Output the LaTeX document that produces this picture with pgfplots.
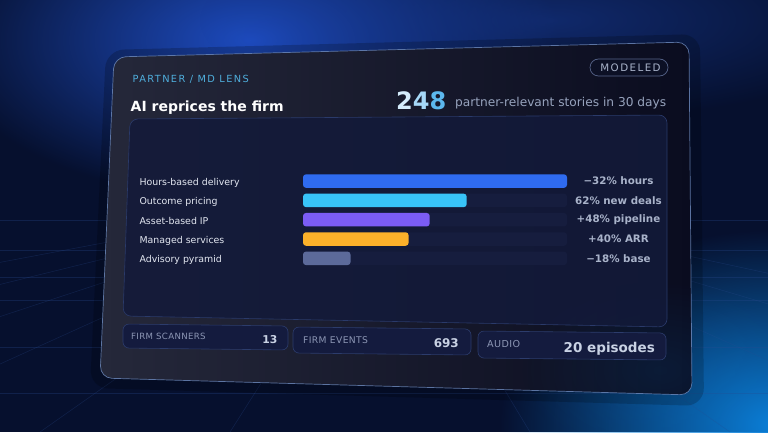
\documentclass[border=0pt]{standalone}
\usepackage{pgfplots}
\pgfplotsset{compat=1.18}
\usepackage{fontspec}
\setmainfont{DejaVu Sans}
\newfontfamily\spaced[LetterSpace=14]{DejaVu Sans}
\newfontfamily\spacedsm[LetterSpace=4]{DejaVu Sans}
\usetikzlibrary{fadings}
\tikzfading[name=glowfade, inner color=transparent!0, outer color=transparent!100]
\definecolor{bgbase}{HTML}{06102E}
\definecolor{glowA}{HTML}{1E4CC0}
\definecolor{glowB}{HTML}{0B7FD8}
\definecolor{gridc}{HTML}{2A4A8F}
\definecolor{cardL}{HTML}{25283A}
\definecolor{cardR}{HTML}{0A0C1F}
\definecolor{cardedge}{HTML}{6F8CC0}
\definecolor{panelfill}{HTML}{131A3A}
\definecolor{paneledge}{HTML}{2A3A6A}
\definecolor{boxfill}{HTML}{141B3E}
\definecolor{boxedge}{HTML}{2C3C6C}
\definecolor{kicker}{HTML}{4FAEDC}
\definecolor{subt}{HTML}{97A3BD}
\definecolor{catc}{HTML}{E3E7F1}
\definecolor{valc}{HTML}{A9B3CA}
\definecolor{small}{HTML}{8C96B4}
\definecolor{bignum}{HTML}{C9D2E4}
\definecolor{track}{HTML}{161D3E}
\definecolor{cA}{HTML}{2F6BF0}
\definecolor{cB}{HTML}{38C3F8}
\definecolor{cC}{HTML}{7B5CF5}
\definecolor{cD}{HTML}{FBB02A}
\definecolor{cE}{HTML}{5C6A9A}
\definecolor{dA}{HTML}{D4ECFC}
\definecolor{dB}{HTML}{A6D8F8}
\definecolor{dC}{HTML}{5CB8EE}
\begin{document}
\begin{tikzpicture}
\useasboundingbox (0pt,0pt) rectangle (768pt,432pt);
\clip (0pt,0pt) rectangle (768pt,432pt);
\fill[bgbase] (0pt,0pt) rectangle (768pt,432pt);
\begin{scope}[x=1pt,y=-1pt,shift={(0pt,432pt)}]
  % glows
  \fill[glowA, path fading=glowfade] (-60,-120) rectangle (560,200);
  \fill[glowA!70!bgbase, path fading=glowfade, opacity=0.6] (200,-80) rectangle (900,120);
  \fill[glowB, path fading=glowfade] (500,230) rectangle (1050,620);
  % grid floor
  \begin{scope}[draw=gridc, line width=0.5pt, opacity=0.3]
    \foreach \yy in {220,250,277,300,347,393} {\draw (0,\yy) -- (768,\yy);}
    \foreach \xx in {-900,-600,-350,-150,40,230,530,730,930,1200,1500} {\draw (384,190) -- (\xx,432);}
  \end{scope}
  % card shadow
  \fill[black, opacity=0.2, rounded corners=18pt] (106,50) -- (700,34) -- (704,406) -- (90,388) -- cycle;
  % card
  \shade[left color=cardL, right color=cardR, rounded corners=12pt] (114,57) -- (689,42) -- (692,395) -- (100,378) -- cycle;
  \fill[glowB, opacity=0.12, path fading=glowfade] (520,280) rectangle (800,460);
  \draw[cardedge, line width=0.7pt, opacity=0.8, rounded corners=12pt] (114,57) -- (689,42) -- (692,395) -- (100,378) -- cycle;
  % inner panel
  \fill[panelfill, opacity=0.85, rounded corners=8pt] (130,119) -- (667,115) -- (667,327) -- (123,316) -- cycle;
  \draw[paneledge, line width=0.6pt, rounded corners=8pt] (130,119) -- (667,115) -- (667,327) -- (123,316) -- cycle;
  % bottom boxes
  \foreach \a/\b/\c/\d in {123/324/288/350, 293/327/471/355, 478/331/666/360} {
    \fill[boxfill, rounded corners=6pt] (\a,\b) -- (\c,\b+2) -- (\c,\d) -- (\a,\d-2) -- cycle;
    \draw[boxedge, line width=0.6pt, rounded corners=6pt] (\a,\b) -- (\c,\b+2) -- (\c,\d) -- (\a,\d-2) -- cycle;
  }
  \node[anchor=base west, inner sep=0pt, text=small, font=\spacedsm\fontsize{8.6}{10}\selectfont] at (131,339.5) {FIRM SCANNERS};
  \node[anchor=base east, inner sep=0pt, text=bignum, font=\bfseries\fontsize{10.8}{13}\selectfont] at (277.5,343) {13};
  \node[anchor=base west, inner sep=0pt, text=small, font=\spacedsm\fontsize{9.2}{10}\selectfont] at (303,343) {FIRM EVENTS};
  \node[anchor=base east, inner sep=0pt, text=bignum, font=\bfseries\fontsize{12}{14}\selectfont] at (459,347.5) {693};
  \node[anchor=base west, inner sep=0pt, text=small, font=\spacedsm\fontsize{9.6}{10}\selectfont] at (487,347) {AUDIO};
  \node[anchor=base east, inner sep=0pt, text=bignum, font=\bfseries\fontsize{13.5}{15}\selectfont] at (655,352.5) {20 episodes};
  % header
  \node[anchor=base west, inner sep=0pt, text=kicker, font=\spaced\fontsize{9.8}{11}\selectfont] at (132.5,82.3) {PARTNER / MD LENS};
  \node[anchor=base west, inner sep=0pt, text=white, font=\bfseries\fontsize{14}{16}\selectfont] at (130.5,112) {AI reprices the firm};
  \node[anchor=base west, inner sep=0pt, font=\bfseries\fontsize{24}{26}\selectfont] at (396,109.5) {\textcolor{dA}{2}\textcolor{dB}{4}\textcolor{dC}{8}};
  \node[anchor=base west, inner sep=0pt, text=subt, font=\fontsize{12.2}{14}\selectfont] at (455,106) {partner-relevant stories in 30 days};
  \draw[boxedge!80!white, line width=0.7pt, rounded corners=8.5pt, fill=boxfill!60!black] (590,59) rectangle (668,76);
  \node[inner sep=0pt, text=valc, font=\spaced\fontsize{10.3}{11}\selectfont] at (630.5,67.5) {MODELED};
\end{scope}
\begin{axis}[
  at={(303pt,164pt)}, anchor=south west,
  scale only axis, width=264pt, height=96.6pt,
  xbar, bar width=13.5pt,
  xmin=0, xmax=100, ymin=-0.5, ymax=4.5, y dir=reverse,
  axis line style={draw=none},
  xtick=\empty, ytick={0,1,2,3,4},
  yticklabels={Hours-based delivery,Outcome pricing,Asset-based IP,Managed services,Advisory pyramid},
  major tick length=0pt,
  yticklabel style={anchor=west, xshift=-167pt, yshift=-1.5pt, text=catc, font=\fontsize{9.4}{11}\selectfont},
  clip=false,
  every axis plot/.append style={draw=none, bar shift=0pt, rounded corners=3pt},
]
\addplot[fill=track] coordinates {(100,0) (100,1) (100,2) (100,3) (100,4)};
\addplot[fill=cA] coordinates {(100,0)};
\addplot[fill=cB] coordinates {(62,1)};
\addplot[fill=cC] coordinates {(48,2)};
\addplot[fill=cD] coordinates {(40,3)};
\addplot[fill=cE] coordinates {(18,4)};
\begin{scope}[every node/.style={text=valc, font=\bfseries\fontsize{10.3}{12}\selectfont}]
\node at (axis cs:119.5,0) {−32\% hours};
\node at (axis cs:119.5,1) {62\% new deals};
\node at (axis cs:119.5,2) {+48\% pipeline};
\node at (axis cs:119.5,3) {+40\% ARR};
\node at (axis cs:119.5,4) {−18\% base};
\end{scope}
\end{axis}
\end{tikzpicture}
\end{document}
